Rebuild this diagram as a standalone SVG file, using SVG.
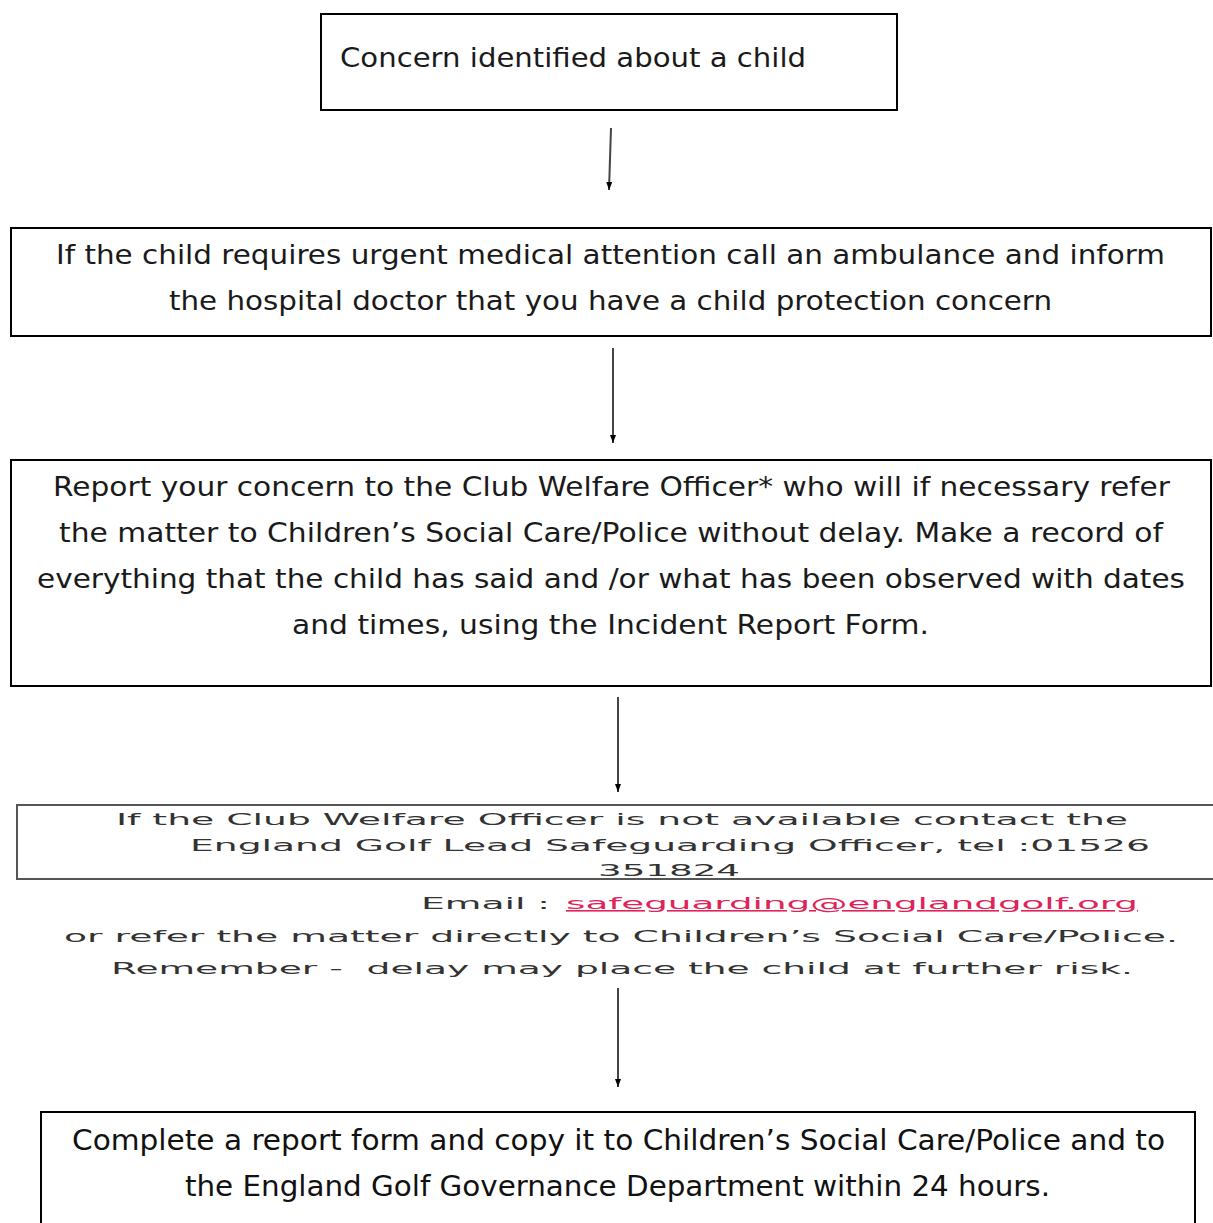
<svg xmlns="http://www.w3.org/2000/svg" width="1213" height="1223" viewBox="0 0 1213 1223">
<style>
.box{fill:#fff;stroke:#000;stroke-width:2}
.box4{fill:#fff;stroke:#555;stroke-width:2}
.t{font-family:"DejaVu Sans","Verdana",sans-serif;font-size:27px;fill:#1a1a1a}
.tc{font-family:"DejaVu Sans Condensed","DejaVu Sans",sans-serif;font-stretch:condensed;font-size:28px;fill:#111}
.s{font-family:"DejaVu Sans","Verdana",sans-serif;font-size:16px;fill:#333}
.link{fill:#e0245a;text-decoration:underline}
.c{stroke:#444;stroke-width:2;fill:none;marker-end:url(#ah)}
</style>
<defs>
<marker id="ah" markerWidth="8" markerHeight="6" refX="8" refY="3" orient="auto" markerUnits="userSpaceOnUse" viewBox="0 0 8 6">
<path d="M0,0 L8,3 L0,6 Z" fill="#000"/>
</marker>
</defs>
<rect width="1213" height="1223" fill="#fff"/>
<g id="connectors">
<line class="c" x1="611" y1="128" x2="609" y2="190"/>
<line class="c" x1="613" y1="348" x2="613" y2="443"/>
<line class="c" x1="618" y1="697" x2="618" y2="792"/>
<line class="c" x1="618" y1="988" x2="618" y2="1087"/>
</g>
<g id="node1">
<rect class="box" x="321" y="14" width="576" height="96"/>
<text class="t" x="340" y="67" textLength="466" lengthAdjust="spacingAndGlyphs">Concern identified about a child</text>
</g>
<g id="node2">
<rect class="box" x="11" y="228" width="1200" height="108"/>
<text class="t" x="56" y="264" textLength="1109" lengthAdjust="spacingAndGlyphs">If the child requires urgent medical attention call an ambulance and inform</text>
<text class="t" x="169" y="310" textLength="883" lengthAdjust="spacingAndGlyphs">the hospital doctor that you have a child protection concern</text>
</g>
<g id="node3">
<rect class="box" x="11" y="460" width="1200" height="226"/>
<text class="t" x="53" y="496" textLength="1117" lengthAdjust="spacingAndGlyphs">Report your concern to the Club Welfare Officer* who will if necessary refer</text>
<text class="t" x="59" y="542" textLength="1104" lengthAdjust="spacingAndGlyphs">the matter to Children’s Social Care/Police without delay. Make a record of</text>
<text class="t" x="37" y="588" textLength="1148" lengthAdjust="spacingAndGlyphs">everything that the child has said and /or what has been observed with dates</text>
<text class="t" x="292" y="634" textLength="637" lengthAdjust="spacingAndGlyphs">and times, using the Incident Report Form.</text>
</g>
<g id="node4">
<rect class="box4" x="17" y="805" width="1200" height="74"/>
<text class="s" x="116" y="825" textLength="1012" lengthAdjust="spacingAndGlyphs">If the Club Welfare Officer is not available contact the</text>
<text class="s" x="190" y="851" textLength="960" lengthAdjust="spacingAndGlyphs">England Golf Lead Safeguarding Officer, tel :01526</text>
<text class="s" x="598" y="876" textLength="142" lengthAdjust="spacingAndGlyphs">351824</text>
</g>
<g id="note">
<text class="s" x="421" y="909" textLength="129" lengthAdjust="spacingAndGlyphs">Email :</text>
<text class="s link" x="566" y="909" textLength="572" lengthAdjust="spacingAndGlyphs">safeguarding@englandgolf.org</text>
<text class="s" x="64" y="942" textLength="1114" lengthAdjust="spacingAndGlyphs">or refer the matter directly to Children’s Social Care/Police.</text>
<text class="s" x="111" y="974" textLength="1022" lengthAdjust="spacingAndGlyphs" xml:space="preserve">Remember -  delay may place the child at further risk.</text>
</g>
<g id="node5">
<rect class="box" x="41" y="1112" width="1154" height="120"/>
<text class="tc" x="72" y="1150" textLength="1093" lengthAdjust="spacingAndGlyphs">Complete a report form and copy it to Children’s Social Care/Police and to</text>
<text class="tc" x="185" y="1196" textLength="865" lengthAdjust="spacingAndGlyphs">the England Golf Governance Department within 24 hours.</text>
</g>
</svg>
